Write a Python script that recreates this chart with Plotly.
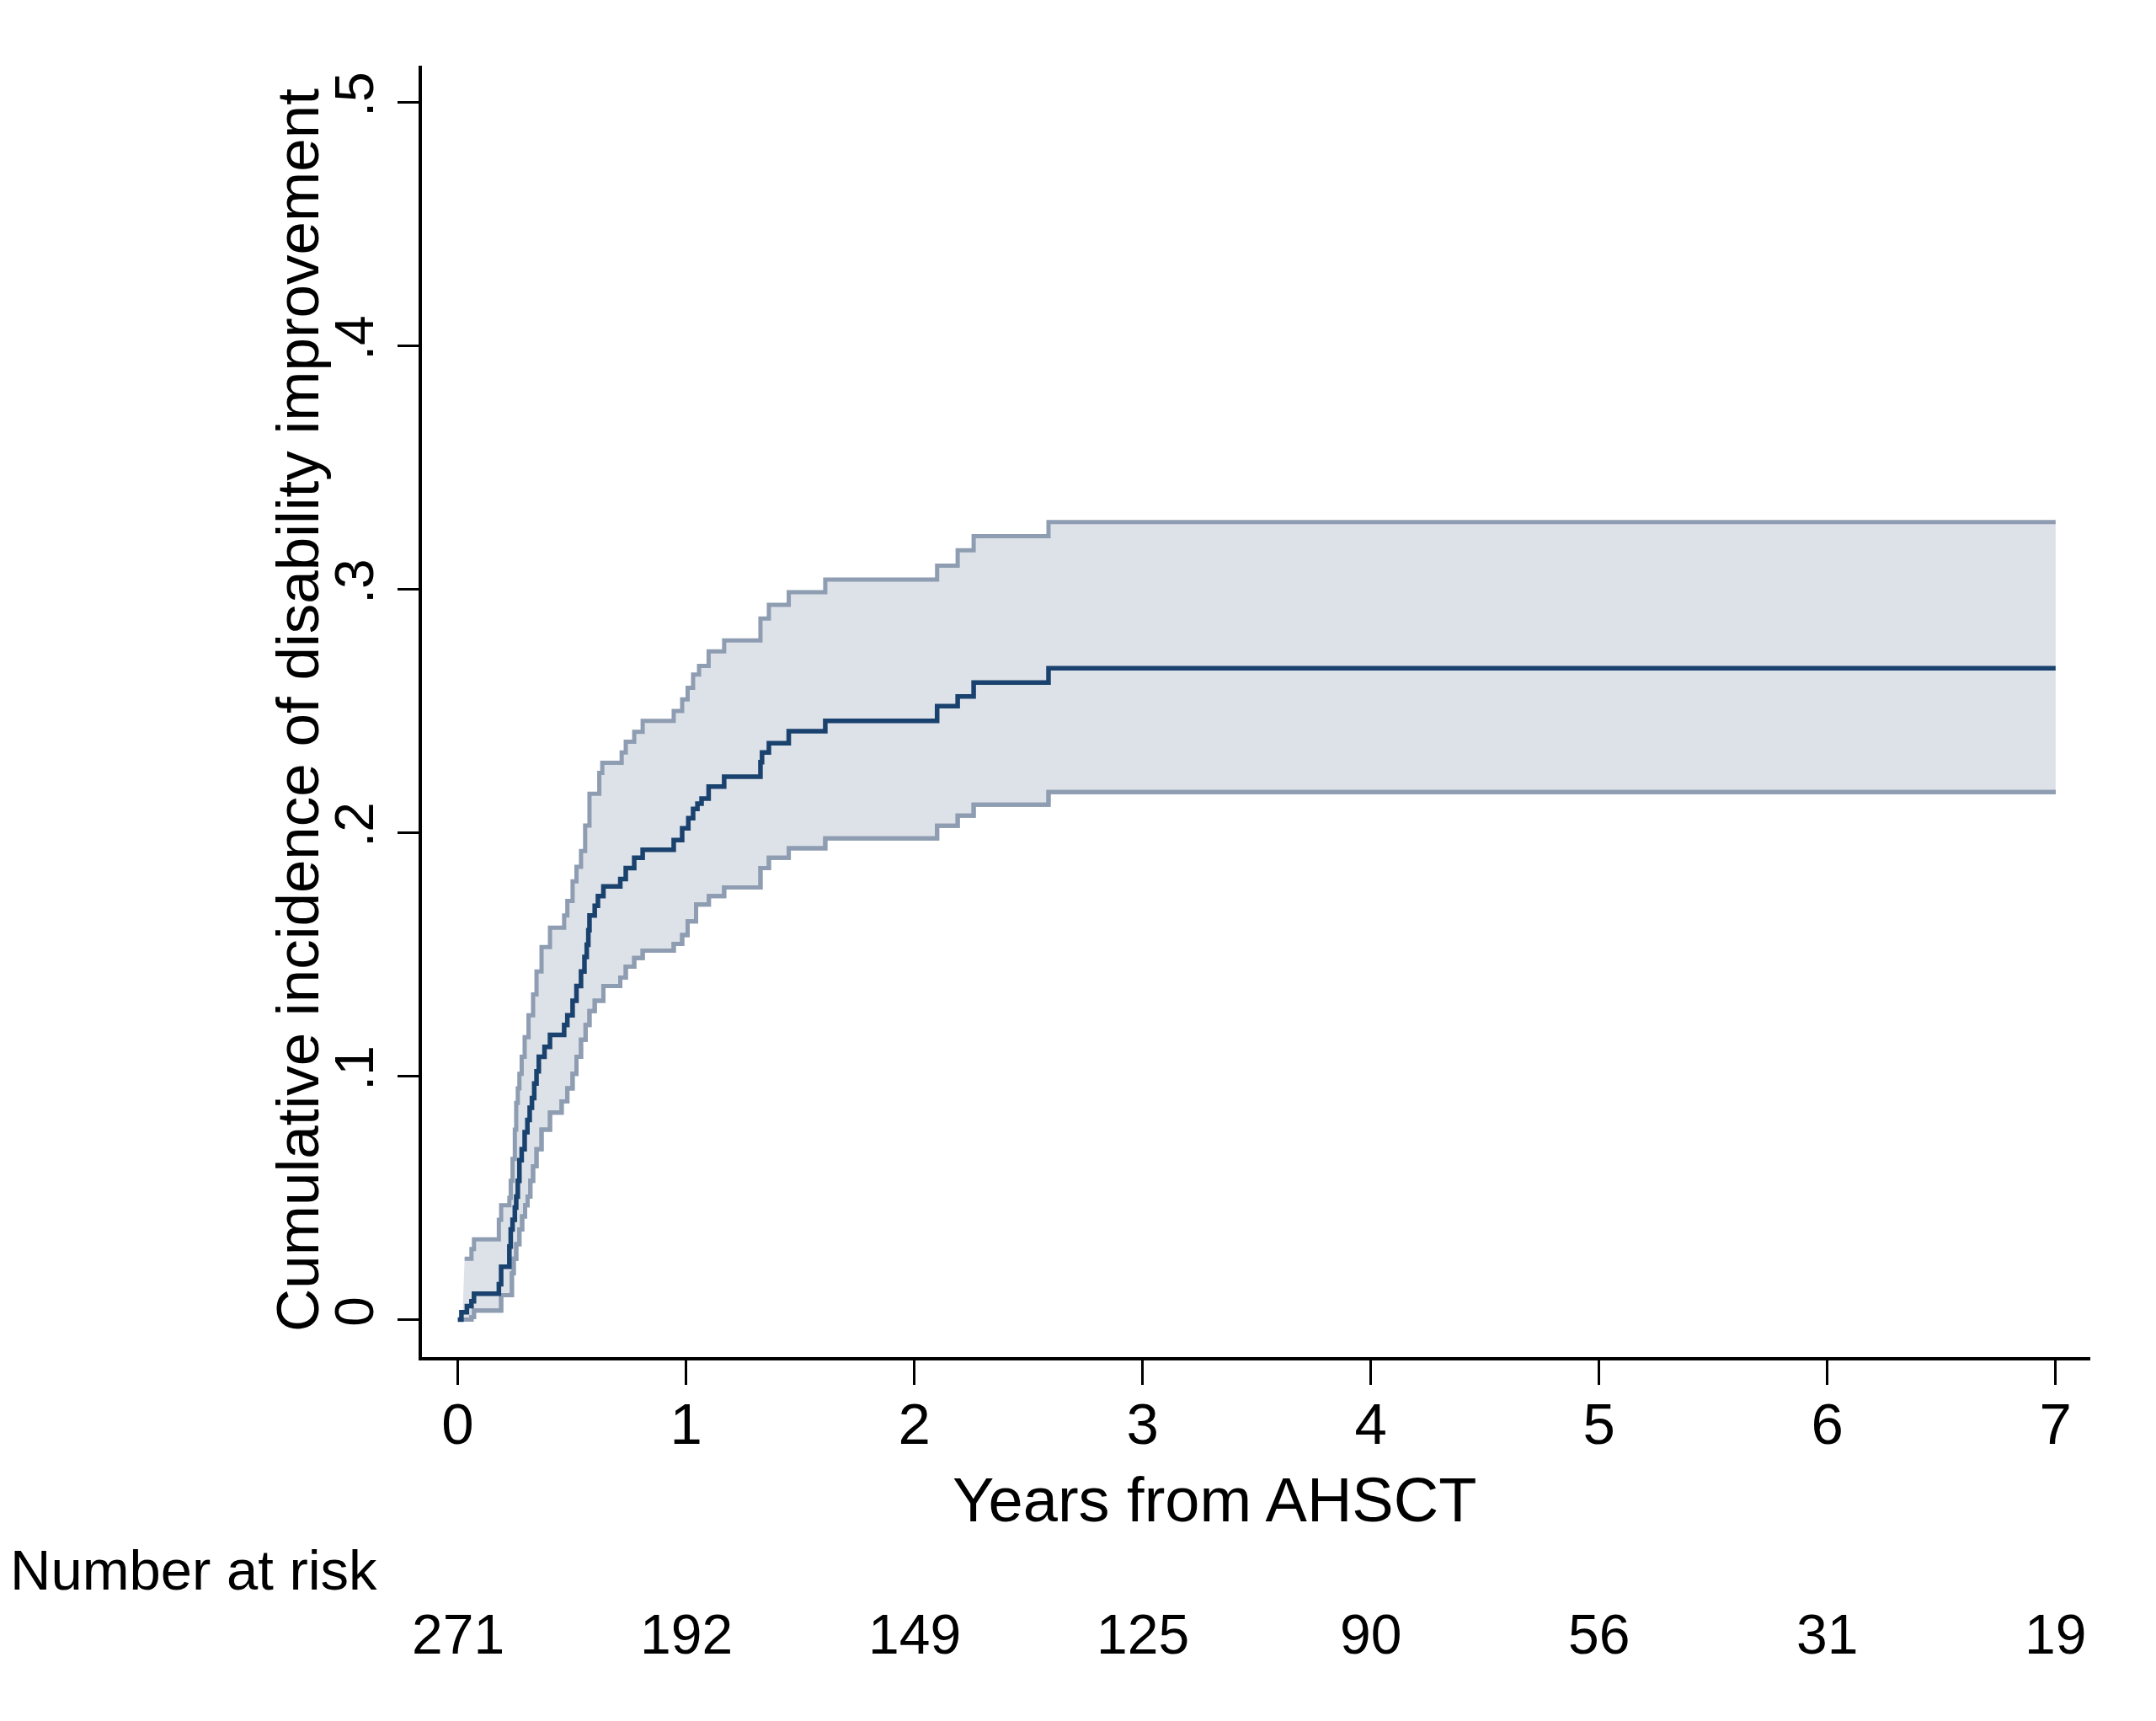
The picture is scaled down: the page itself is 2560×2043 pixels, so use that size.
import plotly.graph_objects as go

# ---- data ----
time_est = [0.000, 0.016, 0.040, 0.060, 0.071, 0.180, 0.190, 0.226, 0.232, 0.240, 0.250, 0.256,
            0.263, 0.270, 0.280, 0.293, 0.305, 0.315, 0.325, 0.335, 0.345, 0.355, 0.380, 0.404,
            0.466, 0.480, 0.503, 0.520, 0.540, 0.555, 0.565, 0.572, 0.577, 0.600, 0.614, 0.638,
            0.712, 0.736, 0.773, 0.810, 0.946, 0.983, 1.010, 1.031, 1.050, 1.068, 1.099, 1.167,
            1.326, 1.333, 1.363, 1.450, 1.610, 2.100, 2.190, 2.260, 2.588, 7.000]
cif_est = [0.000, 0.003, 0.0055, 0.0075, 0.0106, 0.0145, 0.0217, 0.030, 0.037, 0.041, 0.046, 0.0505,
           0.057, 0.0655, 0.070, 0.077, 0.082, 0.087, 0.091, 0.097, 0.102, 0.108, 0.112, 0.117,
           0.121, 0.125, 0.131, 0.137, 0.143, 0.149, 0.154, 0.160, 0.166, 0.170, 0.174, 0.178,
           0.181, 0.1855, 0.1897, 0.193, 0.197, 0.2018, 0.206, 0.2098, 0.212, 0.214, 0.219, 0.223,
           0.229, 0.233, 0.2368, 0.2417, 0.246, 0.252, 0.256, 0.2617, 0.2676, 0.2676]

time_upper = [0.030, 0.060, 0.071, 0.180, 0.190, 0.226, 0.232, 0.240, 0.250, 0.256, 0.263, 0.270,
              0.280, 0.293, 0.310, 0.330, 0.345, 0.367, 0.404, 0.466, 0.480, 0.503, 0.520, 0.540,
              0.558, 0.577, 0.620, 0.633, 0.718, 0.736, 0.773, 0.810, 0.946, 0.983, 1.007, 1.031,
              1.057, 1.099, 1.167, 1.326, 1.363, 1.450, 1.610, 2.100, 2.190, 2.260, 2.588, 7.000]
cif_upper = [0.025, 0.029, 0.033, 0.041, 0.047, 0.050, 0.057, 0.066, 0.078, 0.089, 0.095, 0.101,
             0.108, 0.116, 0.125, 0.1336, 0.143, 0.153, 0.161, 0.166, 0.172, 0.180, 0.186, 0.1925,
             0.203, 0.216, 0.2246, 0.2287, 0.233, 0.2374, 0.2415, 0.246, 0.250, 0.2548, 0.2595, 0.265,
             0.2685, 0.2745, 0.279, 0.288, 0.2936, 0.2988, 0.304, 0.3097, 0.316, 0.3218, 0.3276, 0.3276]

time_lower = [0.020, 0.060, 0.071, 0.190, 0.237, 0.245, 0.256, 0.270, 0.282, 0.295, 0.306, 0.318,
              0.330, 0.345, 0.367, 0.404, 0.455, 0.480, 0.503, 0.520, 0.540, 0.560, 0.577, 0.600,
              0.638, 0.712, 0.736, 0.773, 0.810, 0.946, 0.983, 1.007, 1.044, 1.100, 1.167, 1.326,
              1.363, 1.450, 1.610, 2.100, 2.190, 2.260, 2.588, 7.000]
cif_lower = [0.000, 0.001, 0.0037, 0.010, 0.019, 0.025, 0.031, 0.037, 0.0424, 0.047, 0.0505, 0.057,
             0.063, 0.070, 0.078, 0.085, 0.0896, 0.095, 0.101, 0.108, 0.115, 0.121, 0.1267, 0.131,
             0.137, 0.1405, 0.145, 0.1485, 0.1516, 0.1543, 0.158, 0.1636, 0.1705, 0.174, 0.1775, 0.1855,
             0.1897, 0.1936, 0.1977, 0.2029, 0.207, 0.2115, 0.2167, 0.2167]

x_ticks = [0, 1, 2, 3, 4, 5, 6, 7]
y_ticks = [0, 0.1, 0.2, 0.3, 0.4, 0.5]
y_tick_labels = ["0", ".1", ".2", ".3", ".4", ".5"]
risk_times = [0, 1, 2, 3, 4, 5, 6, 7]
number_at_risk = [271, 192, 149, 125, 90, 56, 31, 19]

x_title = "Years from AHSCT"
y_title = "Cumulative incidence of disability improvement"
risk_title = "Number at risk"

# ---- styles ----
FONT = "Liberation Sans, Arial, sans-serif"
MAIN_COLOR = "#1a426e"
CI_COLOR = "#8e9db1"
FILL_COLOR = "#dde1e8"

fig = go.Figure()

fig.add_trace(go.Scatter(
    x=time_lower, y=cif_lower, mode="lines", line=dict(shape="hv", color=CI_COLOR, width=5),
    hoverinfo="skip", showlegend=False))
fig.add_trace(go.Scatter(
    x=time_upper, y=cif_upper, mode="lines", line=dict(shape="hv", color=CI_COLOR, width=5),
    fill="tonexty", fillcolor=FILL_COLOR, hoverinfo="skip", showlegend=False))
# redraw lower CI line over the fill
fig.add_trace(go.Scatter(
    x=time_lower, y=cif_lower, mode="lines", line=dict(shape="hv", color=CI_COLOR, width=5),
    hoverinfo="skip", showlegend=False))
fig.add_trace(go.Scatter(
    x=time_est, y=cif_est, mode="lines", line=dict(shape="hv", color=MAIN_COLOR, width=5.5),
    showlegend=False))

W, H = 2560, 2043
L, R, T, B = 501, 78, 78, 432
plot_w = W - L - R
plot_h = H - T - B

def px_to_paper_x(px):
    return (px - L) / plot_w

def px_to_paper_y(py):
    return (H - B - py) / plot_h

annotations = []
annotations.append(dict(
    text=y_title, textangle=-90, xref="paper", yref="paper",
    x=px_to_paper_x(353), y=px_to_paper_y(843), xanchor="center", yanchor="middle",
    showarrow=False, font=dict(family=FONT, size=71, color="black")))
annotations.append(dict(
    text=x_title, xref="paper", yref="paper",
    x=px_to_paper_x(1442), y=px_to_paper_y(1780), xanchor="center", yanchor="middle",
    showarrow=False, font=dict(family=FONT, size=74, color="black")))
annotations.append(dict(
    text=risk_title, xref="paper", yref="paper",
    x=px_to_paper_x(10), y=px_to_paper_y(1863), xanchor="left", yanchor="middle",
    showarrow=False, font=dict(family=FONT, size=67, color="black")))
for t, n in zip(risk_times, number_at_risk):
    annotations.append(dict(
        text=str(n), xref="x", yref="paper", x=t, y=px_to_paper_y(1940),
        xanchor="center", yanchor="middle", showarrow=False,
        font=dict(family=FONT, size=66, color="black")))

fig.update_layout(
    width=W, height=H,
    margin=dict(l=L, r=R, t=T, b=B, pad=0),
    paper_bgcolor="white", plot_bgcolor="white",
    font=dict(family=FONT, color="black"),
    annotations=annotations,
    xaxis=dict(
        range=[-0.157, 7.152], tickvals=x_ticks, ticktext=[str(v) for v in x_ticks],
        showgrid=False, zeroline=False, showline=True, linecolor="black", linewidth=3.5,
        ticks="outside", ticklen=29, tickwidth=3, tickcolor="black",
        tickfont=dict(family=FONT, size=69, color="black"), ticklabelstandoff=-13,
    ),
    yaxis=dict(
        range=[-0.0154, 0.5151], tickvals=y_ticks, ticktext=y_tick_labels, tickangle=-90,
        showgrid=False, zeroline=False, showline=True, linecolor="black", linewidth=3.5,
        ticks="outside", ticklen=25, tickwidth=3, tickcolor="black",
        tickfont=dict(family=FONT, size=64, color="black"), ticklabelstandoff=4,
    ),
)

fig.write_html("out.html")
